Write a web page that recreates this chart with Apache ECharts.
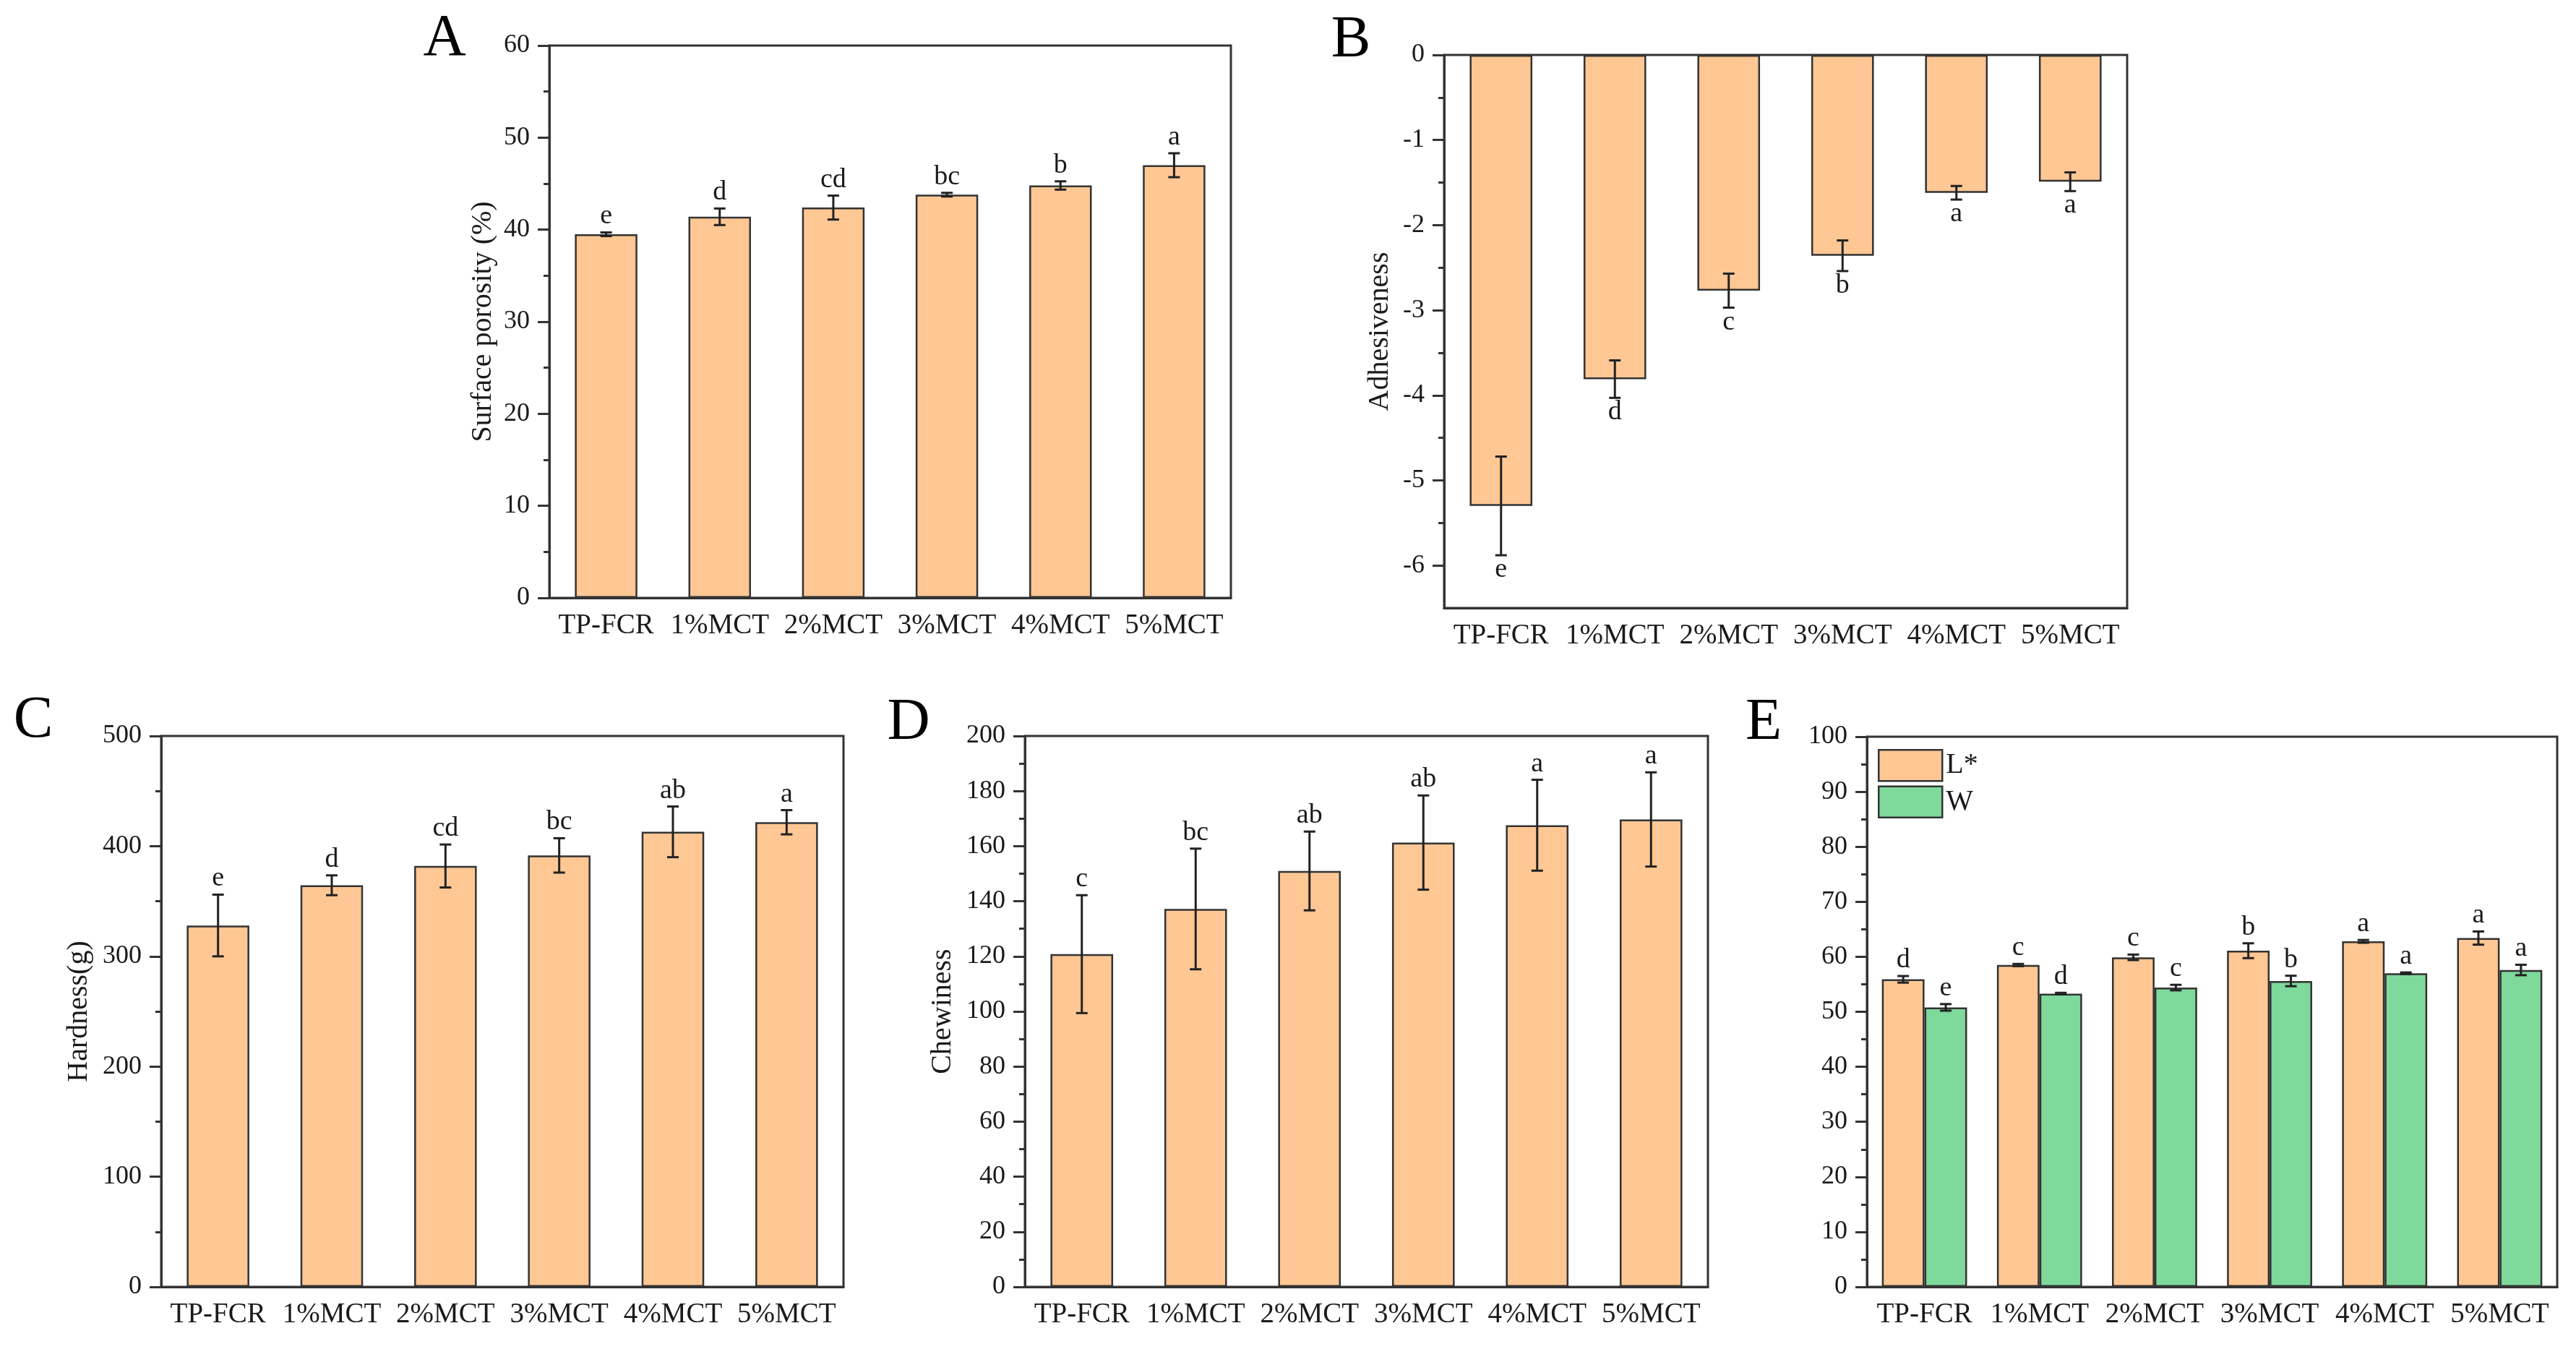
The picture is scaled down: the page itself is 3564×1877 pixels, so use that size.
<!DOCTYPE html>
<html><head><meta charset="utf-8">
<script src="https://cdn.jsdelivr.net/npm/echarts@6/dist/echarts.min.js"></script>
<style>html,body{margin:0;padding:0;background:#fff}#c{width:3564px;height:1877px}</style>
</head><body><div id="c"></div><script>
const categories = ['TP-FCR','1%MCT','2%MCT','3%MCT','4%MCT','5%MCT'];

const porosity = [39.5, 41.4, 42.4, 43.8, 44.8, 47.0];
const porosityErr = [0.2, 0.9, 1.3, 0.2, 0.45, 1.3];
const porosityLetters = ['e','d','cd','bc','b','a'];
const porosityTicks = [0,10,20,30,40,50,60];

const adhesiveness = [-5.30, -3.81, -2.77, -2.36, -1.62, -1.49];
const adhesivenessErr = [0.58, 0.22, 0.20, 0.18, 0.08, 0.11];
const adhesivenessLetters = ['e','d','c','b','a','a'];
const adhesivenessTicks = [-6,-5,-4,-3,-2,-1,0];
const adhesivenessMin = -6.5;

const hardness = [328, 364.5, 382, 391.6, 413, 421.7];
const hardnessErr = [28, 9, 19.5, 15.6, 23, 11];
const hardnessLetters = ['e','d','cd','bc','ab','a'];
const hardnessTicks = [0,100,200,300,400,500];

const chewiness = [120.8, 137.2, 151, 161.3, 167.6, 169.7];
const chewinessErr = [21.4, 21.9, 14.3, 17.1, 16.5, 17.1];
const chewinessLetters = ['c','bc','ab','ab','a','a'];
const chewinessTicks = [0,20,40,60,80,100,120,140,160,180,200];

const lightness = [55.9, 58.5, 59.9, 61.1, 62.8, 63.4];
const lightnessErr = [0.6, 0.2, 0.5, 1.35, 0.25, 1.2];
const lightnessLetters = ['d','c','c','b','a','a'];
const whiteness = [50.8, 53.3, 54.4, 55.6, 57.0, 57.6];
const whitenessErr = [0.6, 0.15, 0.5, 0.95, 0.15, 0.95];
const whitenessLetters = ['e','d','c','b','a','a'];
const colorTicks = [0,10,20,30,40,50,60,70,80,90,100];

const ORANGE = '#FEC794', GREEN = '#7ED99B', INK = '#333', TXT = '#1a1a1a';
const FONT = 'Liberation Serif';

const grids = [
  {left: 760, top: 63, width: 943, height: 764},
  {left: 1998, top: 76, width: 945, height: 765},
  {left: 223, top: 1018, width: 944, height: 762},
  {left: 1418, top: 1018, width: 945, height: 762},
  {left: 2583, top: 1019, width: 955, height: 761}
].map(g => Object.assign({show: true, borderColor: INK, borderWidth: 3, backgroundColor: 'transparent'}, g));
// helper grid carrying the integer ticks of panel B (0 .. -6)
const gB = grids[1];
grids.push({show: false, left: gB.left, top: gB.top, width: gB.width,
  height: gB.height * (adhesivenessTicks[adhesivenessTicks.length-1] - adhesivenessTicks[0]) / (0 - adhesivenessMin)});

const lineSt = {color: INK, width: 3};
function xAx(g, show) {
  return {type: 'category', gridIndex: g, data: categories, show: show !== false,
    axisLine: {onZero: false, lineStyle: lineSt},
    axisTick: {alignWithLabel: true, length: 12, lineStyle: lineSt},
    axisLabel: {fontFamily: FONT, fontSize: 39, color: TXT, margin: 19, interval: 0}};
}
function yAx(g, ticks, name, nameGap) {
  return {type: 'value', gridIndex: g, min: ticks[0], max: ticks[ticks.length-1], interval: ticks[1]-ticks[0],
    axisLine: {show: true, lineStyle: lineSt},
    axisTick: {show: true, length: 16, lineStyle: lineSt},
    minorTick: {show: true, splitNumber: 2, length: 8, lineStyle: lineSt},
    splitLine: {show: false}, minorSplitLine: {show: false},
    axisLabel: {fontFamily: FONT, fontSize: 36, color: TXT, margin: 27},
    name: name, nameLocation: 'middle', nameGap: nameGap,
    nameTextStyle: {fontFamily: FONT, fontSize: 40, color: TXT}};
}

const xAxes = [xAx(0), xAx(1), xAx(2), xAx(3), xAx(4), xAx(5, false)];
const yB = yAx(1, [adhesivenessMin, 0], 'Adhesiveness', 69);
yB.interval = undefined;
yB.axisTick = {show: false}; yB.minorTick = {show: false}; yB.axisLabel = {show: false};
const yB2 = yAx(5, adhesivenessTicks, '', 0);
yB2.axisLine = {show: false};
const yAxes = [
  yAx(0, porosityTicks, 'Surface porosity (%)', 72),
  yB,
  yAx(2, hardnessTicks, 'Hardness(g)', 94),
  yAx(3, chewinessTicks, 'Chewiness', 94),
  yAx(4, colorTicks, '', 0),
  yB2
];

function barSeries(g, values, name, color, width) {
  return {type: 'bar', name: name, xAxisIndex: g, yAxisIndex: g, data: values,
    barWidth: width, barGap: '0%',
    itemStyle: {color: color, borderColor: INK, borderWidth: 2.5}};
}
function errSeries(g, values, errs, letters, side, frac, below) {
  return {type: 'custom', xAxisIndex: g, yAxisIndex: g, z: 10, silent: true,
    data: values.map((v, i) => [i, v, errs[i]]),
    renderItem: function (params, api) {
      const i = api.value(0), v = api.value(1), e = api.value(2);
      const bw = api.size([1, 0])[0] * frac;
      const cx = api.coord([i, v])[0] + side * bw / 2;
      const yT = api.coord([i, v + e])[1], yBt = api.coord([i, v - e])[1];
      const cap = 8, st = {stroke: '#222', lineWidth: 3};
      const letter = letters[params.dataIndex];
      return {type: 'group', children: [
        {type: 'line', shape: {x1: cx, y1: yT, x2: cx, y2: yBt}, style: st},
        {type: 'line', shape: {x1: cx - cap, y1: yT, x2: cx + cap, y2: yT}, style: st},
        {type: 'line', shape: {x1: cx - cap, y1: yBt, x2: cx + cap, y2: yBt}, style: st},
        {type: 'text', x: cx, y: below ? yBt + 1 : yT - 3,
          style: {text: letter, font: '38px "Liberation Serif"', fill: TXT,
            align: 'center', verticalAlign: below ? 'top' : 'bottom',
            textAlign: 'center', textVerticalAlign: below ? 'top' : 'bottom'}}
      ]};
    }};
}

const series = [
  barSeries(0, porosity, 'porosity', ORANGE, '55%'),
  errSeries(0, porosity, porosityErr, porosityLetters, 0, 0.55, false),
  barSeries(1, adhesiveness, 'adhesiveness', ORANGE, '55%'),
  errSeries(1, adhesiveness, adhesivenessErr, adhesivenessLetters, 0, 0.55, true),
  barSeries(2, hardness, 'hardness', ORANGE, '55%'),
  errSeries(2, hardness, hardnessErr, hardnessLetters, 0, 0.55, false),
  barSeries(3, chewiness, 'chewiness', ORANGE, '55%'),
  errSeries(3, chewiness, chewinessErr, chewinessLetters, 0, 0.55, false),
  barSeries(4, lightness, 'L*', ORANGE, '37%'),
  barSeries(4, whiteness, 'W', GREEN, '37%'),
  errSeries(4, lightness, lightnessErr, lightnessLetters, -1, 0.37, false),
  errSeries(4, whiteness, whitenessErr, whitenessLetters, 1, 0.37, false)
];

function panelLetter(t, x, y) {
  return {type: 'text', x: x, y: y, z: 100,
    style: {text: t, font: '82px "Liberation Serif"', fill: '#000',
      align: 'center', verticalAlign: 'middle', textAlign: 'center', textVerticalAlign: 'middle'}};
}

const chart = echarts.init(document.getElementById('c'), null, {renderer: 'canvas'});
chart.setOption({
  animation: false,
  backgroundColor: '#fff',
  grid: grids,
  xAxis: xAxes,
  yAxis: yAxes,
  legend: {data: ['L*', 'W'], left: 2593, top: 1031, orient: 'vertical', icon: 'rect',
    itemWidth: 88, itemHeight: 43, itemGap: 5,
    itemStyle: {borderColor: INK, borderWidth: 2.5},
    textStyle: {fontFamily: FONT, fontSize: 40, color: TXT}},
  graphic: [
    panelLetter('A', 615, 54), panelLetter('B', 1869, 56),
    panelLetter('C', 46, 997), panelLetter('D', 1257, 1000), panelLetter('E', 2440, 1000)
  ],
  series: series
});
</script></body></html>
